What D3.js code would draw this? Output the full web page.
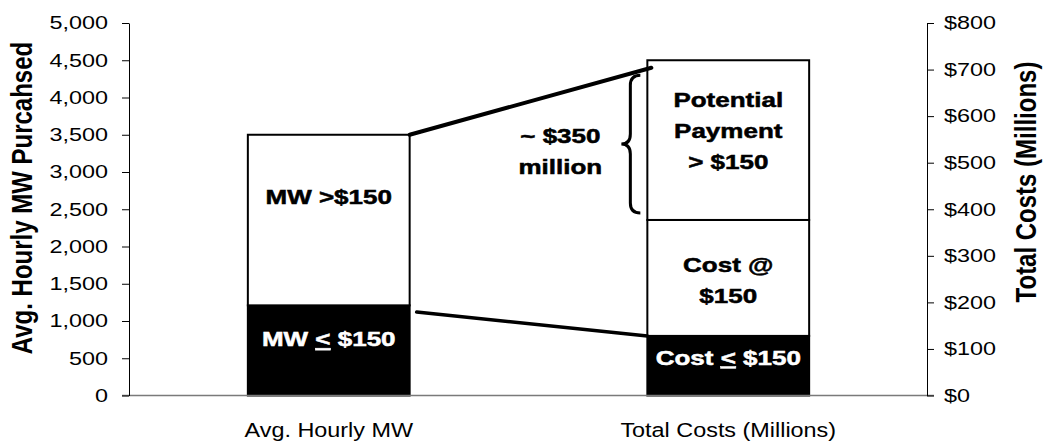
<!DOCTYPE html>
<html>
<head>
<meta charset="utf-8">
<script src="https://cdn.jsdelivr.net/npm/d3@7"></script>
<style>
    body { margin: 0; background: #fff; }
    svg { display: block; font-family: "Liberation Sans", Arial, sans-serif; }
</style>
</head>
<body>
<svg id="chart" width="1045" height="446"></svg>
<script>
'use strict';

/* global d3 */

// ---- data ----
var categories = ["Avg. Hourly MW", "Total Costs (Millions)"];

// MW bar, bottom to top: MW <= $150, MW > $150
var mwValues = [1210, 2290];
var mwLabels = [["MW \u2264 $150"], ["MW >$150"]];

// cost bar ($ millions), bottom to top
var costValues = [128, 249, 343];
var costLabels = [["Cost \u2264 $150"], ["Cost @", "$150"], ["Potential", "Payment", "> $150"]];

var leftTicks = [0, 500, 1000, 1500, 2000, 2500, 3000, 3500, 4000, 4500, 5000];
var rightTicks = [0, 100, 200, 300, 400, 500, 600, 700, 800];

var leftTitle = "Avg. Hourly MW Purcahsed";
var rightTitle = "Total Costs (Millions)";

// connector lines: MW value on the left bar -> $ value on the right bar
var connectorFrom = [3500, 1120];
var connectorTo = [704, 128];

// brace beside the "potential payment" block ($ millions)
var braceRange = [392, 688];
var braceLabel = ["~ $350", "million"];

// ---- layout ----
var SX = 1.3;          // the scan is stretched sideways
var LINE = 31;
var mwNudge = [-11, -23];
var costNudge = [-8, 3, -9];

var svg = d3.select("#chart");

var x = d3.scaleBand()
    .domain(categories)
    .range([129, 928])
    .paddingInner(0.595)
    .paddingOuter(0.2975);

var yL = d3.scaleLinear().domain([0, 5000]).range([395.5, 23]);
var yR = d3.scaleLinear().domain([0, 800]).range([395.5, 23]);

function stack(values) {
    var acc = 0;
    return values.map(function (v) {
        var s = { y0: acc, y1: acc + v };
        acc += v;
        return s;
    });
}

// text with an underlined "<" standing in for "≤"
function writeLine(t, str) {
    var parts = str.split("\u2264");
    parts.forEach(function (p, i) {
        if (i > 0) {
            t.append("tspan").attr("text-decoration", "underline").text("<");
        }
        t.append("tspan").text(p);
    });
}

function block(cx, cy, lines, color, size) {
    lines.forEach(function (line, i) {
        var yy = cy + (i - (lines.length - 1) / 2) * LINE;
        var t = svg.append("text")
            .attr("transform", "translate(" + cx + "," + yy + ") scale(" + SX + ",1)")
            .attr("text-anchor", "middle")
            .attr("dy", "0.35em")
            .attr("font-size", size)
            .attr("font-weight", "bold")
            .attr("fill", color)
            .attr("stroke", color)
            .attr("stroke-width", 0.5);
        writeLine(t, line);
    });
}

function drawBar(cat, values, labels, scale, nudge) {
    stack(values).forEach(function (s, i) {
        var dark = i === 0;
        svg.append("rect")
            .attr("x", x(cat))
            .attr("y", scale(s.y1))
            .attr("width", x.bandwidth())
            .attr("height", scale(s.y0) - scale(s.y1))
            .attr("fill", dark ? "#000" : "#fff")
            .attr("stroke", "#000")
            .attr("stroke-width", 2);
        var cy = (scale(s.y0) + scale(s.y1)) / 2 + nudge[i];
        block(x(cat) + x.bandwidth() / 2, cy, labels[i], dark ? "#fff" : "#000", 20);
    });
}

drawBar(categories[0], mwValues, mwLabels, yL, mwNudge);
drawBar(categories[1], costValues, costLabels, yR, costNudge);

// baseline
svg.append("line")
    .attr("x1", 122).attr("x2", 934)
    .attr("y1", yL(0)).attr("y2", yL(0))
    .attr("stroke", "#7a7a7a")
    .attr("stroke-width", 1.5);

// left axis
var gl = svg.append("g")
    .attr("transform", "translate(129,0)")
    .call(d3.axisLeft(yL).tickValues(leftTicks).tickSize(7).tickSizeOuter(0).tickFormat(d3.format(",")));
gl.select(".domain").attr("stroke", "#000");
gl.selectAll(".tick line").attr("stroke", "#000");
gl.selectAll(".tick text")
    .attr("x", -21 / SX)
    .attr("transform", "scale(" + SX + ",1)")
    .attr("font-size", 18)
    .attr("font-family", "Liberation Sans, Arial, sans-serif")
    .attr("fill", "#000");

// right axis
var gr = svg.append("g")
    .attr("transform", "translate(927,0)")
    .call(d3.axisRight(yR).tickValues(rightTicks).tickSize(7).tickSizeOuter(0).tickFormat(function (d) { return "$" + d; }));
gr.select(".domain").attr("stroke", "#000");
gr.selectAll(".tick line").attr("stroke", "#000");
gr.selectAll(".tick text")
    .attr("x", 17 / SX)
    .attr("transform", "scale(" + SX + ",1)")
    .attr("font-size", 18)
    .attr("font-family", "Liberation Sans, Arial, sans-serif")
    .attr("fill", "#000");

// category labels
categories.forEach(function (c) {
    svg.append("text")
        .attr("transform", "translate(" + (x(c) + x.bandwidth() / 2) + ",437) scale(1.2,1)")
        .attr("text-anchor", "middle")
        .attr("font-size", 19.5)
        .text(c);
});

// axis titles
svg.append("text")
    .attr("transform", "translate(22,198) scale(1.2,1) rotate(-90)")
    .attr("text-anchor", "middle")
    .attr("dy", "0.35em")
    .attr("font-size", 24)
    .attr("font-weight", "bold")
    .text(leftTitle);

svg.append("text")
    .attr("transform", "translate(1026,182) scale(1.2,1) rotate(-90)")
    .attr("text-anchor", "middle")
    .attr("dy", "0.35em")
    .attr("font-size", 24)
    .attr("font-weight", "bold")
    .text(rightTitle);

// connector lines
var leftEdge = x(categories[0]) + x.bandwidth();
var rightEdge = x(categories[1]);
connectorFrom.forEach(function (v, i) {
    svg.append("line")
        .attr("x1", leftEdge + (i === 0 ? 0 : 7))
        .attr("y1", yL(v))
        .attr("x2", rightEdge + (i === 0 ? 4 : 0))
        .attr("y2", yR(connectorTo[i]))
        .attr("stroke", "#000")
        .attr("stroke-width", i === 0 ? 4 : 3.5)
        .attr("stroke-linecap", "round");
});

// curly brace
var xr = rightEdge - 7, xm = rightEdge - 17, xt = rightEdge - 26;
var b0 = yR(braceRange[1]), b1 = yR(braceRange[0]), bm = (b0 + b1) / 2, r = 10;
var brace = d3.path();
brace.moveTo(xr, b0);
brace.quadraticCurveTo(xm, b0, xm, b0 + r);
brace.lineTo(xm, bm - r);
brace.quadraticCurveTo(xm, bm, xt, bm);
brace.quadraticCurveTo(xm, bm, xm, bm + r);
brace.lineTo(xm, b1 - r);
brace.quadraticCurveTo(xm, b1, xr, b1);
svg.append("path")
    .attr("d", brace.toString())
    .attr("fill", "none")
    .attr("stroke", "#000")
    .attr("stroke-width", 3);

block(rightEdge - 87, bm + 7, braceLabel, "#000", 20);
</script>
</body>
</html>
